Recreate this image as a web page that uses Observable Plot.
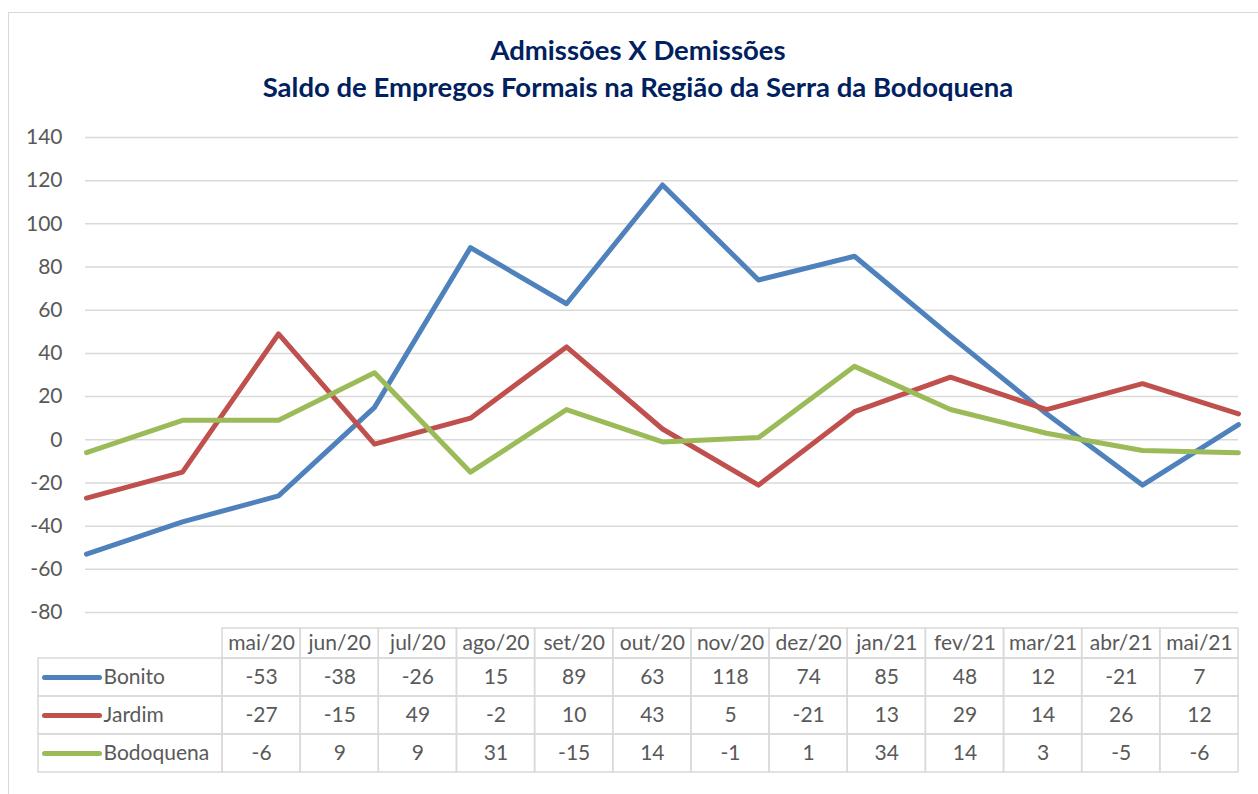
<!DOCTYPE html>
<html>
<head>
<meta charset="utf-8">
<script src="https://cdn.jsdelivr.net/npm/d3@7"></script>
<script src="https://cdn.jsdelivr.net/npm/@observablehq/plot@0.6"></script>
<style>
  html, body { margin: 0; padding: 0; background: #fff; }
  #wrap { position: relative; width: 1258px; height: 794px; overflow: hidden; background: #fff; font-family: Lato, "Open Sans", sans-serif; }
  #frame { position: absolute; left: 8px; top: 12px; width: 1300px; height: 900px; border: 1.5px solid #d9d9d9; box-sizing: border-box; }
  .title { position: absolute; left: 0; width: 1276px; text-align: center; color: #002060; font-weight: bold; font-size: 27.5px; font-family: Lato, sans-serif; white-space: nowrap; line-height: 1.2; }
  #t1 { top: 33px; }
  #t2 { top: 70px; }
  #chart { position: absolute; left: 0; top: 117px; }
  #table { position: absolute; left: 0; top: 620px; }
</style>
</head>
<body>
<div id="wrap">
  <div id="frame"></div>
  <div class="title" id="t1">Admissões X Demissões</div>
  <div class="title" id="t2">Saldo de Empregos Formais na Região da Serra da Bodoquena</div>
  <div id="chart"></div>
  <div id="table"></div>
</div>
<script>
const months = ["mai/20","jun/20","jul/20","ago/20","set/20","out/20","nov/20","dez/20","jan/21","fev/21","mar/21","abr/21","mai/21"];
const seriesNames = ["Bonito","Jardim","Bodoquena"];
const bonito    = [-53,-38,-26,15,89,63,118,74,85,48,12,-21,7];
const jardim    = [-27,-15,49,-2,10,43,5,-21,13,29,14,26,12];
const bodoquena = [-6,9,9,31,-15,14,-1,1,34,14,3,-5,-6];
const colors = ["#4F81BD","#C0504D","#9BBB59"];
const yTicks = [-80,-60,-40,-20,0,20,40,60,80,100,120,140];

const valuesBySeries = [bonito, jardim, bodoquena];
const rows = [];
seriesNames.forEach((s, si) => valuesBySeries[si].forEach((v, i) => rows.push({series: s, month: months[i], i, value: v})));

const textColor = "#595959";
const gridColor = "#d9d9d9";

// ---- line chart ----
const chart = Plot.plot({
  width: 1258,
  height: 515,
  marginLeft: 85,
  marginRight: 20,
  marginTop: 20,
  marginBottom: 20,
  style: {fontFamily: "Lato, 'Open Sans', sans-serif", fontSize: "21px", color: textColor, background: "transparent", overflow: "visible"},
  x: {type: "point", domain: months, padding: 0, axis: null},
  y: {domain: [-80, 140], ticks: yTicks},
  marks: [
    Plot.gridY(yTicks, {stroke: gridColor, strokeOpacity: 1, strokeWidth: 1.5}),
    Plot.axisY(yTicks, {tickSize: 0, tickPadding: 23, label: null, fill: textColor, fontSize: 21, tickFormat: d => String(d)}),
    ...seriesNames.map((s, si) => Plot.line(rows.filter(d => d.series === s), {
      x: "month", y: "value", stroke: colors[si], strokeWidth: 5, strokeLinejoin: "round", strokeLinecap: "round"
    }))
  ]
});
document.getElementById("chart").appendChild(chart);

// ---- data table ----
const left = 222, right = 1238;
const colW = (right - left) / 13;
const labelX1 = -(left - 38) / colW;
const swX1 = -(left - 44) / colW, swX2 = -(left - 99) / colW, lblX = -(left - 103) / colW;
const hdrTop = 8, hdrBot = 38, rowH = 38;

const headerCells = months.map((m, i) => ({i, text: m}));
const bodyCells = rows.map(d => ({i: d.i, r: seriesNames.indexOf(d.series), text: String(d.value)}));
const labelCells = seriesNames.map((s, r) => ({r, text: s, color: colors[r]}));

const table = Plot.plot({
  width: 1258,
  height: 170,
  marginLeft: left,
  marginRight: 1258 - right,
  marginTop: 0,
  marginBottom: 0,
  style: {fontFamily: "Lato, 'Open Sans', sans-serif", fontSize: "21px", color: textColor, background: "transparent", overflow: "visible"},
  x: {type: "linear", domain: [0, 13], axis: null},
  y: {type: "linear", domain: [0, 170], range: [0, 170], axis: null},
  marks: [
    Plot.rect(headerCells, {x1: d => d.i, x2: d => d.i + 1, y1: hdrTop, y2: hdrBot, stroke: gridColor, strokeWidth: 1.5, fill: "none"}),
    Plot.rect(bodyCells, {x1: d => d.i, x2: d => d.i + 1, y1: d => hdrBot + d.r * rowH, y2: d => hdrBot + (d.r + 1) * rowH, stroke: gridColor, strokeWidth: 1.5, fill: "none"}),
    Plot.rect(labelCells, {x1: labelX1, x2: 0, y1: d => hdrBot + d.r * rowH, y2: d => hdrBot + (d.r + 1) * rowH, stroke: gridColor, strokeWidth: 1.5, fill: "none"}),
    Plot.text(headerCells, {x: d => d.i + 0.5, y: (hdrTop + hdrBot) / 2, text: "text", fill: textColor, fontSize: 21}),
    Plot.text(bodyCells, {x: d => d.i + 0.5, y: d => hdrBot + (d.r + 0.5) * rowH, text: "text", fill: textColor, fontSize: 21}),
    Plot.link(labelCells, {x1: swX1, x2: swX2, y1: d => hdrBot + (d.r + 0.5) * rowH, y2: d => hdrBot + (d.r + 0.5) * rowH, stroke: d => d.color, strokeWidth: 5, strokeLinecap: "round"}),
    Plot.text(labelCells, {x: lblX, y: d => hdrBot + (d.r + 0.5) * rowH, text: "text", textAnchor: "start", fill: textColor, fontSize: 21})
  ]
});
document.getElementById("table").appendChild(table);
</script>
</body>
</html>
